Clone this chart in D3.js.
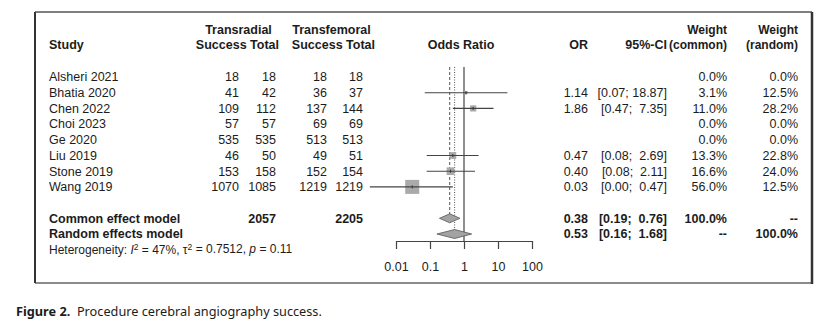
<!DOCTYPE html>
<html><head><meta charset="utf-8">
<script src="https://cdn.jsdelivr.net/npm/d3@7"></script>
<style>
body{margin:0;background:#fff;}
text{font-family:"Liberation Sans",Arial,sans-serif;fill:#1c1c1c;}
</style></head>
<body><svg id="c" width="831" height="330"></svg>
<script>
const studies=["Alsheri 2021","Bhatia 2020","Chen 2022","Choi 2023","Ge 2020","Liu 2019","Stone 2019","Wang 2019"];
const trSuccess=[18,41,109,57,535,46,153,1070];
const trTotal=[18,42,112,57,535,50,158,1085];
const tfSuccess=[18,36,137,69,513,49,152,1219];
const tfTotal=[18,37,144,69,513,51,154,1219];
const orVal=[null,1.14,1.86,null,null,0.47,0.40,0.03];
const ciLow=[null,0.07,0.47,null,null,0.08,0.08,0.0017];
const ciHigh=[null,18.87,7.35,null,null,2.69,2.11,0.47];
const orLabels=["","1.14","1.86","","","0.47","0.40","0.03"];
const ciLabels=["","[0.07; 18.87]","[0.47;  7.35]","","","[0.08;  2.69]","[0.08;  2.11]","[0.00;  0.47]"];
const wCommon=[0,3.1,11.0,0,0,13.3,16.6,56.0];
const wRandom=[0,12.5,28.2,0,0,22.8,24.0,12.5];
const modelNames=["Common effect model","Random effects model"];
const modelOR=[0.38,0.53];
const modelLow=[0.19,0.16];
const modelHigh=[0.76,1.68];
const modelORLabels=["0.38","0.53"];
const modelCILabels=["[0.19;  0.76]","[0.16;  1.68]"];
const modelWCommon=["100.0%","--"];
const modelWRandom=["--","100.0%"];
const totalTr=2057, totalTf=2205;
const tickVals=[0.01,0.1,1,10,100];
const tickLabels=["0.01","0.1","1","10","100"];

const svg=d3.select("#c");
const fs=12.5;
const rowY=i=>77+i*15.7;
const yCommon=rowY(9), yRandom=rowY(10), yHet=rowY(11);
const x=d3.scaleLog().domain([0.01,100]).range([396,532]);

// frame
const fr={l:35,t:12,r:812,b:283};
svg.append("line").attr("x1",fr.l).attr("x2",fr.r).attr("y1",fr.t).attr("y2",fr.t).attr("stroke","#555").attr("stroke-width",1.3);
svg.append("line").attr("x1",fr.l).attr("x2",fr.r).attr("y1",fr.b).attr("y2",fr.b).attr("stroke","#666").attr("stroke-width",1.5);
svg.append("line").attr("x1",fr.l).attr("x2",fr.l).attr("y1",fr.t).attr("y2",fr.b).attr("stroke","#333").attr("stroke-width",2);
svg.append("line").attr("x1",fr.r).attr("x2",fr.r).attr("y1",fr.t).attr("y2",fr.b+1).attr("stroke","#333").attr("stroke-width",2.5);

function txt(s,xx,yy,anchor,bold,size){
  return svg.append("text").attr("x",xx).attr("y",yy).attr("dy","0.35em")
    .attr("text-anchor",anchor||"start").attr("font-weight",bold?"bold":"normal")
    .attr("font-size",size||fs).attr("xml:space","preserve").style("white-space","pre").text(s);
}
// headers
const h1=30, h2=45;
txt("Study",49,h2,"start",true);
txt("Transradial",238.5,h1,"middle",true);
txt("Success Total",279,h2,"end",true);
txt("Transfemoral",331.5,h1,"middle",true);
txt("Success Total",375,h2,"end",true);
txt("Odds Ratio",461,h2,"middle",true);
txt("OR",588,h2,"end",true);
txt("95%-CI",667,h2,"end",true);
txt("Weight",727,h1,"end",true,12);
txt("(common)",727,h2,"end",true,12);
txt("Weight",798,h1,"end",true,12);
txt("(random)",798,h2,"end",true,12);

// study rows
studies.forEach((s,i)=>{
  const y=rowY(i);
  txt(s,49,y);
  txt(String(trSuccess[i]),239,y,"end");
  txt(String(trTotal[i]),276,y,"end");
  txt(String(tfSuccess[i]),327,y,"end");
  txt(String(tfTotal[i]),363,y,"end");
  if(orLabels[i]) txt(orLabels[i],588,y,"end");
  if(ciLabels[i]) txt(ciLabels[i],667,y,"end");
  txt(wCommon[i].toFixed(1)+"%",727,y,"end");
  txt(wRandom[i].toFixed(1)+"%",798,y,"end");
});
// summary rows
[yCommon,yRandom].forEach((y,k)=>{
  txt(modelNames[k],49,y,"start",true);
  txt(modelORLabels[k],588,y,"end",true);
  txt(modelCILabels[k],667,y,"end",true);
  txt(modelWCommon[k],727,y,"end",true);
  txt(modelWRandom[k],798,y,"end",true);
});
txt(String(totalTr),276,yCommon,"end",true);
txt(String(totalTf),363,yCommon,"end",true);

// heterogeneity
const het=svg.append("text").attr("x",49).attr("y",yHet).attr("dy","0.35em").attr("font-size",12).attr("xml:space","preserve");
het.append("tspan").text("Heterogeneity: ");
het.append("tspan").attr("font-style","italic").text("I");
het.append("tspan").attr("font-size",8.5).attr("dy","-0.45em").text("2");
het.append("tspan").attr("dy","0.3em").text(" = 47%, \u03C4");
het.append("tspan").attr("font-size",8.5).attr("dy","-0.45em").text("2");
het.append("tspan").attr("dy","0.3em").text(" = 0.7512, ");
het.append("tspan").attr("font-style","italic").text("p");
het.append("tspan").text(" = 0.11");

// reference lines
const lineTop=67, axisY=241;
svg.append("line").attr("x1",x(1)).attr("x2",x(1)).attr("y1",lineTop).attr("y2",axisY).attr("stroke","#444").attr("stroke-width",1.2);
svg.append("line").attr("x1",x(modelOR[0])).attr("x2",x(modelOR[0])).attr("y1",lineTop).attr("y2",yCommon-4)
  .attr("stroke","#555").attr("stroke-width",1).attr("stroke-dasharray","3,2");
svg.append("line").attr("x1",x(modelOR[1])).attr("x2",x(modelOR[1])).attr("y1",lineTop).attr("y2",yRandom-4)
  .attr("stroke","#555").attr("stroke-width",1).attr("stroke-dasharray","1,1.5");

// study markers
const maxW=d3.max(wCommon), maxS=14;
studies.forEach((s,i)=>{
  if(orVal[i]==null) return;
  const y=rowY(i), cx=x(orVal[i]);
  const sz=maxS*Math.sqrt(wCommon[i]/maxW);
  svg.append("rect").attr("x",cx-sz/2).attr("y",y-sz/2).attr("width",sz).attr("height",sz).attr("fill","#aaaaaa");
  svg.append("line").attr("x1",x(ciLow[i])).attr("x2",x(ciHigh[i])).attr("y1",y).attr("y2",y).attr("stroke","#444").attr("stroke-width",1.1);
  svg.append("line").attr("x1",cx).attr("x2",cx).attr("y1",y-1.5).attr("y2",y+1.5).attr("stroke","#333").attr("stroke-width",1);
});
// diamonds
[yCommon,yRandom].forEach((y,k)=>{
  const h=4.5;
  const pts=[[x(modelLow[k]),y],[x(modelOR[k]),y-h],[x(modelHigh[k]),y],[x(modelOR[k]),y+h]];
  svg.append("polygon").attr("points",pts.map(p=>p.join(",")).join(" ")).attr("fill","#a3a3a3").attr("stroke","#555").attr("stroke-width",0.8);
});

// axis
const ax=svg.append("g").attr("transform",`translate(0,${axisY})`)
  .call(d3.axisBottom(x).tickValues(tickVals).tickFormat((d,i)=>tickLabels[i]).tickSize(8).tickSizeOuter(0));
ax.select(".domain").attr("stroke","#444").attr("stroke-width",1.2);
ax.selectAll(".tick line").attr("stroke","#444").attr("stroke-width",1.2);
ax.selectAll(".tick text").attr("font-size",fs).attr("font-family","Liberation Sans, Arial, sans-serif")
  .attr("fill","#1c1c1c").attr("y",26).attr("dy","0.35em");

// caption
const cap=svg.append("text").attr("x",16).attr("y",312).attr("dy","0.35em").attr("font-size",12.5)
  .style("font-family","'Noto Sans','Open Sans',sans-serif").attr("xml:space","preserve");
cap.append("tspan").attr("font-weight","bold").text("Figure 2.");
cap.append("tspan").text("  Procedure cerebral angiography success.");
const L=cap.node().getComputedTextLength();
cap.attr("font-size",12.5*306/L);
</script></body></html>
